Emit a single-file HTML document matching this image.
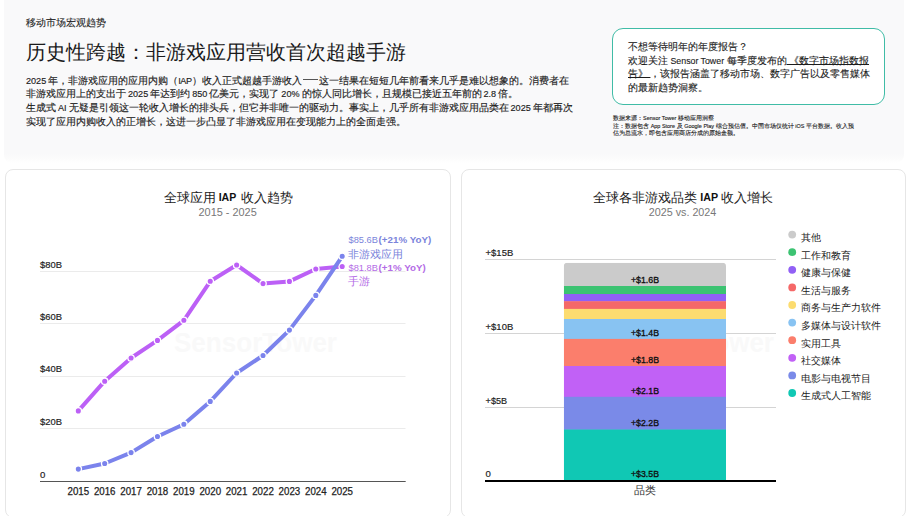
<!DOCTYPE html>
<html>
<head>
<meta charset="utf-8">
<style>
*{box-sizing:border-box;margin:0;padding:0}
html,body{width:909px;height:516px;overflow:hidden;background:#fff}
body{position:relative;font-family:"Liberation Sans",sans-serif;color:#222}
.abs{position:absolute;white-space:nowrap}
.top{position:absolute;left:4px;top:-10px;width:900px;height:173px;background:linear-gradient(to bottom,#f9f9fa 0,#f9f9fa 164px,#fcfcfc 169px,#fff 173px);border-radius:8px}
.t{}
.l{font-size:0.91em;line-height:1}
.dash{display:inline-block;width:14.8px;height:1px;background:#555;vertical-align:3.3px;margin:0 1.2px 0 1.3px}
.kicker{left:26px;top:15.6px;font-size:9.9px;line-height:14px;color:#1f1f1f;-webkit-text-stroke:0.12px #1f1f1f}
.title{left:26px;top:38px;font-size:20px;line-height:28px;color:#1a1a1a}
.para{left:26px;top:73.5px;font-size:10px;line-height:13.8px;color:#1c1c1c;word-spacing:-0.8px;-webkit-text-stroke:0.15px #1c1c1c}
.cta{position:absolute;left:612px;top:28px;width:273px;height:77px;border:1.5px solid #40bca6;border-radius:11px;background:#fff}
.ctat{left:628px;top:39.8px;font-size:9.75px;line-height:13.75px;color:#1c1c1c;word-spacing:-0.3px;-webkit-text-stroke:0.12px #1c1c1c}
.ctat u{text-decoration:underline;text-underline-offset:0px}
.src{left:613px;font-size:6px;line-height:7.3px;color:#1a1a1a;-webkit-text-stroke:0.12px #1a1a1a}
.card{position:absolute;top:169px;height:348.5px;border:1px solid #e6e6e6;border-radius:8px;background:#fff}
svg{position:absolute;left:0;top:0}
</style>
</head>
<body>
<div class="top"></div>
<div class="abs kicker">移动市场宏观趋势</div>
<div class="abs title">历史性跨越<span class="t">：</span>非游戏应用营收首次超越手游</div>
<div class="abs para"><span class="l">2025</span> 年<span class="t">，</span>非游戏应用的应用内购（<span class="l" style="letter-spacing:-0.45px">IAP</span>）收入正式超越手游收入<span class="dash"></span>这一结果在短短几年前看来几乎是难以想象的。消费者在<br>非游戏应用上的支出于 <span class="l">2025</span> 年达到约 <span class="l">850</span> 亿美元<span class="t">，</span>实现了 <span class="l">20%</span> 的惊人同比增长<span class="t">，</span>且规模已接近五年前的 <span class="l">2.8</span> 倍。<br>生成式 <span class="l">AI</span> 无疑是引领这一轮收入增长的排头兵<span class="t">，</span>但它并非唯一的驱动力。事实上<span class="t">，</span>几乎所有非游戏应用品类在 <span class="l">2025</span> 年都再次<br>实现了应用内购收入的正增长<span class="t">，</span>这进一步凸显了非游戏应用在变现能力上的全面走强。</div>

<div class="cta"></div>
<div class="abs ctat">不想等待明年的年度报告<span class="t">？</span><br>欢迎关注 <span class="l">Sensor Tower</span> 每季度发布的<u> 《数字市场指数报</u><br><u>告》 </u><span class="t">，</span>该报告涵盖了移动市场、数字广告以及零售媒体<br>的最新趋势洞察。</div>
<div class="abs src" style="top:114.6px">数据来源<span class="t">：</span><span class="l">Sensor Tower</span> 移动应用洞察</div>
<div class="abs src" style="top:122.5px">注<span class="t">：</span>数据包含 <span class="l">App Store</span> 及 <span class="l">Google Play</span> 综合预估值。中国市场仅统计 <span class="l">iOS</span> 平台数据。收入预<br>估为总流水<span class="t">，</span>即包含应用商店分成的原始金额。</div>

<div class="card" style="left:5px;width:446px"></div>
<div class="card" style="left:461px;width:445px"></div>

<svg width="909" height="516" viewBox="0 0 909 516" font-family="Liberation Sans, sans-serif">
<text x="174" y="352" font-size="27" font-weight="bold" fill="#f9f9f9" textLength="163" lengthAdjust="spacingAndGlyphs">SensorTower</text>
<text x="611" y="352" font-size="27" font-weight="bold" fill="#f9f9f9" textLength="163" lengthAdjust="spacingAndGlyphs">SensorTower</text>
<text x="164.0" y="201.6" font-size="12.7" fill="#222">全球应用</text>
<text x="218.7" y="201.4" font-size="10.4" fill="#111" font-weight="bold" textLength="17.6" lengthAdjust="spacingAndGlyphs">IAP</text>
<text x="240.5" y="201.6" font-size="12.7" fill="#222">收入趋势</text>
<text x="198.5" y="215.9" font-size="11.4" fill="#777" textLength="58.2" lengthAdjust="spacingAndGlyphs">2015 - 2025</text>
<g stroke="#ebebeb" stroke-width="1">
<line x1="40" y1="271.5" x2="405.5" y2="271.5"/>
<line x1="40" y1="323.5" x2="405.5" y2="323.5"/>
<line x1="40" y1="376.5" x2="405.5" y2="376.5"/>
<line x1="40" y1="428.5" x2="405.5" y2="428.5"/>
</g>
<line x1="40" y1="481.5" x2="405.7" y2="481.5" stroke="#555" stroke-width="1"/>
<text x="40" y="267.7" font-size="9.6" fill="#222" textLength="22" lengthAdjust="spacingAndGlyphs" stroke="#222" stroke-width="0.18">$80B</text>
<text x="40" y="319.9" font-size="9.6" fill="#222" textLength="22" lengthAdjust="spacingAndGlyphs" stroke="#222" stroke-width="0.18">$60B</text>
<text x="40" y="372.4" font-size="9.6" fill="#222" textLength="22" lengthAdjust="spacingAndGlyphs" stroke="#222" stroke-width="0.18">$40B</text>
<text x="40" y="424.8" font-size="9.6" fill="#222" textLength="22" lengthAdjust="spacingAndGlyphs" stroke="#222" stroke-width="0.18">$20B</text>
<text x="40" y="477.6" font-size="9.6" fill="#222" stroke="#222" stroke-width="0.18">0</text>
<text x="78.3" y="494.7" font-size="10.2" fill="#222" text-anchor="middle" textLength="21.6" lengthAdjust="spacingAndGlyphs" stroke="#222" stroke-width="0.25">2015</text>
<text x="104.69" y="494.7" font-size="10.2" fill="#222" text-anchor="middle" textLength="21.6" lengthAdjust="spacingAndGlyphs" stroke="#222" stroke-width="0.25">2016</text>
<text x="131.08" y="494.7" font-size="10.2" fill="#222" text-anchor="middle" textLength="21.6" lengthAdjust="spacingAndGlyphs" stroke="#222" stroke-width="0.25">2017</text>
<text x="157.47" y="494.7" font-size="10.2" fill="#222" text-anchor="middle" textLength="21.6" lengthAdjust="spacingAndGlyphs" stroke="#222" stroke-width="0.25">2018</text>
<text x="183.86" y="494.7" font-size="10.2" fill="#222" text-anchor="middle" textLength="21.6" lengthAdjust="spacingAndGlyphs" stroke="#222" stroke-width="0.25">2019</text>
<text x="210.25" y="494.7" font-size="10.2" fill="#222" text-anchor="middle" textLength="21.6" lengthAdjust="spacingAndGlyphs" stroke="#222" stroke-width="0.25">2020</text>
<text x="236.64" y="494.7" font-size="10.2" fill="#222" text-anchor="middle" textLength="21.6" lengthAdjust="spacingAndGlyphs" stroke="#222" stroke-width="0.25">2021</text>
<text x="263.03" y="494.7" font-size="10.2" fill="#222" text-anchor="middle" textLength="21.6" lengthAdjust="spacingAndGlyphs" stroke="#222" stroke-width="0.25">2022</text>
<text x="289.42" y="494.7" font-size="10.2" fill="#222" text-anchor="middle" textLength="21.6" lengthAdjust="spacingAndGlyphs" stroke="#222" stroke-width="0.25">2023</text>
<text x="315.81" y="494.7" font-size="10.2" fill="#222" text-anchor="middle" textLength="21.6" lengthAdjust="spacingAndGlyphs" stroke="#222" stroke-width="0.25">2024</text>
<text x="342.2" y="494.7" font-size="10.2" fill="#222" text-anchor="middle" textLength="21.6" lengthAdjust="spacingAndGlyphs" stroke="#222" stroke-width="0.25">2025</text>
<polyline fill="none" stroke="#bc60f6" stroke-width="4" stroke-linejoin="round" stroke-linecap="round" points="78.3,410.9 104.69,381.2 131.08,358 157.47,340.4 183.86,320.3 210.25,281.3 236.64,265 263.03,283.6 289.42,281.4 315.81,269 342.2,266.5"/>
<g fill="#bc60f6" stroke="#fff" stroke-width="1.3">
<circle cx="78.3" cy="410.9" r="3.2"/>
<circle cx="104.69" cy="381.2" r="3.2"/>
<circle cx="131.08" cy="358" r="3.2"/>
<circle cx="157.47" cy="340.4" r="3.2"/>
<circle cx="183.86" cy="320.3" r="3.2"/>
<circle cx="210.25" cy="281.3" r="3.2"/>
<circle cx="236.64" cy="265" r="3.2"/>
<circle cx="263.03" cy="283.6" r="3.2"/>
<circle cx="289.42" cy="281.4" r="3.2"/>
<circle cx="315.81" cy="269" r="3.2"/>
<circle cx="342.2" cy="266.5" r="3.2"/>
</g>
<polyline fill="none" stroke="#7b83ec" stroke-width="4" stroke-linejoin="round" stroke-linecap="round" points="78.3,469.1 104.69,463.5 131.08,452.6 157.47,436.5 183.86,424.2 210.25,401.4 236.64,373 263.03,355.5 289.42,330.1 315.81,295.4 342.2,256.3"/>
<g fill="#7b83ec" stroke="#fff" stroke-width="1.3">
<circle cx="78.3" cy="469.1" r="3.2"/>
<circle cx="104.69" cy="463.5" r="3.2"/>
<circle cx="131.08" cy="452.6" r="3.2"/>
<circle cx="157.47" cy="436.5" r="3.2"/>
<circle cx="183.86" cy="424.2" r="3.2"/>
<circle cx="210.25" cy="401.4" r="3.2"/>
<circle cx="236.64" cy="373" r="3.2"/>
<circle cx="263.03" cy="355.5" r="3.2"/>
<circle cx="289.42" cy="330.1" r="3.2"/>
<circle cx="315.81" cy="295.4" r="3.2"/>
<circle cx="342.2" cy="256.3" r="3.2"/>
</g>
<text x="348.5" y="243.2" font-size="9.8" fill="#7b84db" textLength="29.4" lengthAdjust="spacingAndGlyphs">$85.6B</text>
<text x="378.6" y="243.2" font-size="9.2" fill="#7b84db" font-weight="bold" textLength="52.6" lengthAdjust="spacingAndGlyphs">(+21% YoY)</text>
<text x="348.3" y="257.6" font-size="10.7" fill="#7b84db">非游戏应用</text>
<text x="348.5" y="270.8" font-size="9.8" fill="#b46ce6" textLength="29.4" lengthAdjust="spacingAndGlyphs">$81.8B</text>
<text x="378.6" y="270.8" font-size="9.2" fill="#b46ce6" font-weight="bold" textLength="47.2" lengthAdjust="spacingAndGlyphs">(+1% YoY)</text>
<text x="348.3" y="285.2" font-size="10.7" fill="#b46ce6">手游</text>
<text x="593.1" y="201.6" font-size="12.7" fill="#222">全球各非游戏品类</text>
<text x="700.3" y="201.4" font-size="10.4" fill="#111" font-weight="bold" textLength="17.8" lengthAdjust="spacingAndGlyphs">IAP</text>
<text x="721.1" y="201.6" font-size="12.7" fill="#222">收入增长</text>
<text x="648.8" y="215.7" font-size="11.4" fill="#777" textLength="67.5" lengthAdjust="spacingAndGlyphs">2025 vs. 2024</text>
<g stroke="#d4d4d4" stroke-width="1">
<line x1="485" y1="259.5" x2="776" y2="259.5"/>
<line x1="485" y1="333.5" x2="776" y2="333.5"/>
<line x1="485" y1="407.5" x2="776" y2="407.5"/>
</g>
<text x="485.6" y="256.2" font-size="9.6" fill="#222" textLength="27.6" lengthAdjust="spacingAndGlyphs" stroke="#222" stroke-width="0.18">+$15B</text>
<text x="485.6" y="330.2" font-size="9.6" fill="#222" textLength="27.6" lengthAdjust="spacingAndGlyphs" stroke="#222" stroke-width="0.18">+$10B</text>
<text x="485.6" y="404.2" font-size="9.6" fill="#222" textLength="21.5" lengthAdjust="spacingAndGlyphs" stroke="#222" stroke-width="0.18">+$5B</text>
<text x="485.6" y="477.4" font-size="9.6" fill="#222" stroke="#222" stroke-width="0.18">0</text>
<clipPath id="bc"><rect x="563.8" y="262.8" width="162.2" height="230" rx="3.5"/></clipPath>
<g clip-path="url(#bc)">
<rect x="563.8" y="262.8" width="162.2" height="23.6" fill="#cbcbcb"/>
<rect x="563.8" y="286.0" width="162.2" height="8.4" fill="#3cc372"/>
<rect x="563.8" y="294.0" width="162.2" height="7.6" fill="#9160f5"/>
<rect x="563.8" y="301.2" width="162.2" height="8.1" fill="#f56868"/>
<rect x="563.8" y="308.9" width="162.2" height="10.5" fill="#fcdc70"/>
<rect x="563.8" y="319.0" width="162.2" height="20.3" fill="#88c3f2"/>
<rect x="563.8" y="338.9" width="162.2" height="27.5" fill="#fb7e6c"/>
<rect x="563.8" y="366.0" width="162.2" height="31.2" fill="#c161f6"/>
<rect x="563.8" y="396.8" width="162.2" height="33.1" fill="#7a8ae8"/>
<rect x="563.8" y="429.5" width="162.2" height="51.9" fill="#10c8b4"/>
</g>
<line x1="485" y1="481" x2="776" y2="481" stroke="#000" stroke-width="2"/>
<text x="645" y="282.9" font-size="9.8" fill="#111" text-anchor="middle" textLength="28" lengthAdjust="spacingAndGlyphs" stroke="#111" stroke-width="0.35">+$1.6B</text>
<text x="645" y="335.6" font-size="9.8" fill="#111" text-anchor="middle" textLength="28" lengthAdjust="spacingAndGlyphs" stroke="#111" stroke-width="0.35">+$1.4B</text>
<text x="645" y="362.7" font-size="9.8" fill="#111" text-anchor="middle" textLength="28" lengthAdjust="spacingAndGlyphs" stroke="#111" stroke-width="0.35">+$1.8B</text>
<text x="645" y="393.5" font-size="9.8" fill="#111" text-anchor="middle" textLength="28" lengthAdjust="spacingAndGlyphs" stroke="#111" stroke-width="0.35">+$2.1B</text>
<text x="645" y="426.0" font-size="9.8" fill="#111" text-anchor="middle" textLength="28" lengthAdjust="spacingAndGlyphs" stroke="#111" stroke-width="0.35">+$2.2B</text>
<text x="645" y="477.2" font-size="9.8" fill="#111" text-anchor="middle" textLength="28" lengthAdjust="spacingAndGlyphs" stroke="#111" stroke-width="0.35">+$3.5B</text>
<text x="645" y="494.3" font-size="10.6" fill="#333" text-anchor="middle">品类</text>
<circle cx="792.2" cy="234.6" r="3.9" fill="#cbcbcb"/>
<text x="801.2" y="241.0" font-size="9.75" fill="#222">其他</text>
<circle cx="792.2" cy="252.2" r="3.9" fill="#3cc372"/>
<text x="801.2" y="258.6" font-size="9.75" fill="#222">工作和教育</text>
<circle cx="792.2" cy="269.8" r="3.9" fill="#9160f5"/>
<text x="801.2" y="276.2" font-size="9.75" fill="#222">健康与保健</text>
<circle cx="792.2" cy="287.4" r="3.9" fill="#f56868"/>
<text x="801.2" y="293.8" font-size="9.75" fill="#222">生活与服务</text>
<circle cx="792.2" cy="305.0" r="3.9" fill="#fcdc70"/>
<text x="801.2" y="311.4" font-size="9.75" fill="#222">商务与生产力软件</text>
<circle cx="792.2" cy="322.6" r="3.9" fill="#88c3f2"/>
<text x="801.2" y="329.0" font-size="9.75" fill="#222">多媒体与设计软件</text>
<circle cx="792.2" cy="340.2" r="3.9" fill="#fb7e6c"/>
<text x="801.2" y="346.6" font-size="9.75" fill="#222">实用工具</text>
<circle cx="792.2" cy="357.8" r="3.9" fill="#c161f6"/>
<text x="801.2" y="364.2" font-size="9.75" fill="#222">社交媒体</text>
<circle cx="792.2" cy="375.4" r="3.9" fill="#7a8ae8"/>
<text x="801.2" y="381.8" font-size="9.75" fill="#222">电影与电视节目</text>
<circle cx="792.2" cy="393.0" r="3.9" fill="#10c8b4"/>
<text x="801.2" y="399.4" font-size="9.75" fill="#222">生成式人工智能</text>
</svg>
</body>
</html>
